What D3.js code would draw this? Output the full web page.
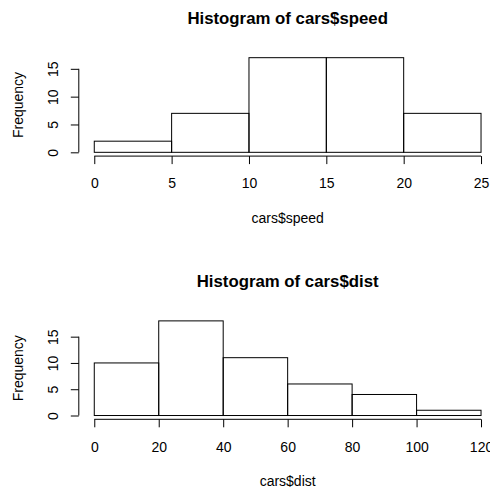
<!DOCTYPE html>
<html><head><meta charset="utf-8">
<script src="https://cdn.jsdelivr.net/npm/d3@7"></script>
<style>
html,body{margin:0;padding:0;background:#fff;}
svg{display:block;font-family:"Liberation Sans",Arial,Helvetica,sans-serif;}
</style></head>
<body>
<svg id="chart" width="490" height="487"></svg>
<script>
const speedBreaks = [0, 5, 10, 15, 20, 25];
const speedCounts = [2, 7, 17, 17, 7];
const speedXTicks = [0, 5, 10, 15, 20, 25];
const speedYTicks = [0, 5, 10, 15];

const distBreaks = [0, 20, 40, 60, 80, 100, 120];
const distCounts = [10, 18, 11, 6, 4, 1];
const distXTicks = [0, 20, 40, 60, 80, 100, 120];
const distYTicks = [0, 5, 10, 15];

const titles = ["Histogram of cars$speed", "Histogram of cars$dist"];
const xLabels = ["cars$speed", "cars$dist"];
const yLabel = "Frequency";

const svg = d3.select("#chart");
const FS = 14;

function panel(offset, breaks, counts, xTicks, yTicks, title, xlab) {
  const g = svg.append("g").attr("transform", `translate(0,${offset})`);
  // plot region
  const left = 78.8, right = 496.5, top = 53.9, bottom = 156.1;
  const xmin = breaks[0], xmax = breaks[breaks.length - 1];
  const ymax = d3.max(counts);
  const xr = (xmax - xmin) * 0.04, yr = ymax * 0.04;
  const x = d3.scaleLinear().domain([xmin - xr, xmax + xr]).range([left, right]);
  const y = d3.scaleLinear().domain([-yr, ymax + yr]).range([bottom, top]);

  const bins = counts.map((c, i) => ({x0: breaks[i], x1: breaks[i + 1], c}));
  g.selectAll("rect.bar").data(bins).enter().append("rect")
    .attr("class", "bar")
    .attr("x", d => x(d.x0))
    .attr("y", d => y(d.c))
    .attr("width", d => x(d.x1) - x(d.x0))
    .attr("height", d => y(0) - y(d.c))
    .attr("fill", "none").attr("stroke", "#000").attr("stroke-width", 1);

  // x axis
  const xa = d3.axisBottom(x).tickValues(xTicks).tickSize(8).tickSizeOuter(0).tickPadding(0).tickFormat(d3.format("d"));
  const gx = g.append("g").attr("transform", `translate(0,${bottom})`).call(xa);
  gx.select(".domain").remove();
  gx.append("line").attr("x1", x(xTicks[0])).attr("x2", x(xTicks[xTicks.length - 1]))
    .attr("y1", 0).attr("y2", 0).attr("stroke", "#000");
  gx.selectAll(".tick line").attr("stroke", "#000");
  gx.selectAll(".tick text").attr("y", 188.5 - bottom).attr("dy", null)
    .attr("font-size", FS).attr("fill", "#000").attr("font-family", null);

  // y axis
  const ya = d3.axisLeft(y).tickValues(yTicks).tickSize(8).tickSizeOuter(0).tickFormat(d3.format("d"));
  const gy = g.append("g").attr("transform", `translate(${left},0)`).call(ya);
  gy.select(".domain").remove();
  gy.append("line").attr("x1", 0).attr("x2", 0)
    .attr("y1", y(yTicks[0])).attr("y2", y(yTicks[yTicks.length - 1])).attr("stroke", "#000");
  gy.selectAll(".tick line").attr("stroke", "#000");
  gy.selectAll(".tick text").attr("transform", "rotate(-90)")
    .attr("x", 0).attr("y", -21.2).attr("dy", null)
    .attr("text-anchor", "middle").attr("font-size", FS).attr("fill", "#000").attr("font-family", null);

  const cx = (left + right) / 2;
  g.append("text").attr("x", cx).attr("y", 24.3).attr("text-anchor", "middle")
    .attr("font-weight", "bold").attr("font-size", 16.8).text(title);
  g.append("text").attr("x", cx).attr("y", 223).attr("text-anchor", "middle")
    .attr("font-size", FS).text(xlab);
  g.append("text").attr("transform", `translate(22.9,${(top + bottom) / 2}) rotate(-90)`)
    .attr("text-anchor", "middle").attr("font-size", FS).text(yLabel);
}

panel(0, speedBreaks, speedCounts, speedXTicks, speedYTicks, titles[0], xLabels[0]);
panel(263.2, distBreaks, distCounts, distXTicks, distYTicks, titles[1], xLabels[1]);
</script>
</body></html>
